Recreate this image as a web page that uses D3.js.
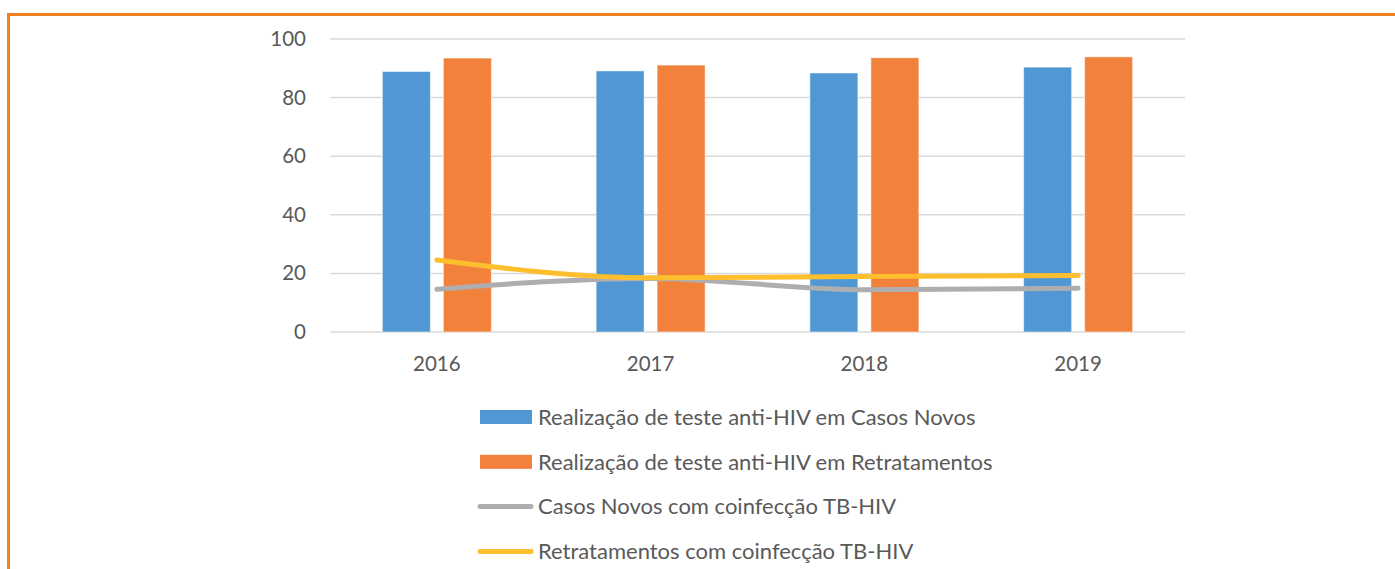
<!DOCTYPE html>
<html>
<head>
<meta charset="utf-8">
<script src="https://cdn.jsdelivr.net/npm/d3@7"></script>
<style>
  body { margin: 0; background: #fff; }
  svg { display: block; font-family: Lato, "Open Sans", sans-serif; }
</style>
</head>
<body>
<svg id="chart" width="1395" height="569"></svg>
<script>
// data
const years = ["2016", "2017", "2018", "2019"]
const testeCasosNovos = [88.9, 89.1, 88.4, 90.4]
const testeRetratamentos = [93.5, 91.1, 93.6, 93.9]
const coinfCasosNovos = [14.6, 18.3, 14.4, 14.9]
const coinfRetratamentos = [24.6, 18.5, 18.9, 19.3]
const yTicks = [0, 20, 40, 60, 80, 100]

const legendNames = [
    "Realização de teste anti-HIV em Casos Novos",
    "Realização de teste anti-HIV em Retratamentos",
    "Casos Novos com coinfecção TB-HIV",
    "Retratamentos com coinfecção TB-HIV"
]
const colors = ["#5097d3", "#f2823b", "#aeaeb1", "#fdbf2d"]

var svg = d3.select("#chart")

// orange frame round the chart
svg.append("rect")
    .attr("x", 8.5)
    .attr("y", 14.5)
    .attr("width", 1400)
    .attr("height", 600)
    .attr("fill", "none")
    .attr("stroke", "#f08224")
    .attr("stroke-width", 3)

let plotLeft = 330, plotRight = 1185, plotTop = 39, plotBottom = 332

let x = d3.scaleBand().domain(years).range([plotLeft, plotRight])
let y = d3.scaleLinear().domain([0, 100]).range([plotBottom, plotTop])

// gridlines
svg.append("g")
    .selectAll("line")
    .data(yTicks)
    .join("line")
    .attr("x1", plotLeft)
    .attr("x2", plotRight)
    .attr("y1", d => y(d))
    .attr("y2", d => y(d))
    .attr("stroke", "#d9d9d9")
    .attr("stroke-width", 1.5)

// y axis labels
let yAxis = svg.append("g")
    .attr("transform", `translate(${plotLeft - 24},0)`)
    .call(d3.axisLeft(y).tickValues(yTicks).tickSize(0).tickPadding(0))
yAxis.select(".domain").remove()
yAxis.selectAll("text")
    .attr("font-size", 20.5)
    .attr("fill", "#595959")
    .attr("font-family", "Lato, 'Open Sans', sans-serif")

// x axis labels
let xAxis = svg.append("g")
    .attr("transform", `translate(0,${plotBottom + 24})`)
    .call(d3.axisBottom(x).tickSize(0).tickPadding(0))
xAxis.select(".domain").remove()
xAxis.selectAll("text")
    .attr("font-size", 20.5)
    .attr("fill", "#595959")
    .attr("font-family", "Lato, 'Open Sans', sans-serif")

// bars
let barW = 48, barGap = 13
let barSeries = [testeCasosNovos, testeRetratamentos]
barSeries.forEach((series, i) => {
    svg.append("g")
        .selectAll("rect")
        .data(series)
        .join("rect")
        .attr("x", (d, j) => x(years[j]) + x.bandwidth() / 2 + (i === 0 ? -barGap / 2 - barW : barGap / 2))
        .attr("y", d => y(d))
        .attr("width", barW)
        .attr("height", d => y(0) - y(d))
        .attr("fill", colors[i])
        .attr("stroke", "#ffffff")
        .attr("stroke-opacity", 0.5)
        .attr("stroke-width", 1)
})

// lines
let line = d3.line()
    .x((d, j) => x(years[j]) + x.bandwidth() / 2)
    .y(d => y(d))
    .curve(d3.curveMonotoneX)

let lineSeries = [coinfCasosNovos, coinfRetratamentos]
lineSeries.forEach((series, i) => {
    svg.append("path")
        .attr("d", line(series))
        .attr("fill", "none")
        .attr("stroke", colors[i + 2])
        .attr("stroke-width", 5)
        .attr("stroke-linecap", "round")
        .attr("stroke-linejoin", "round")
})

// legend
let legendX = 480, legendY = 417, legendStep = 44.8
let legend = svg.append("g")
legendNames.forEach((name, i) => {
    let cy = legendY + i * legendStep
    if (i < 2) {
        legend.append("rect")
            .attr("x", legendX)
            .attr("y", cy - 7)
            .attr("width", 52)
            .attr("height", 14)
            .attr("fill", colors[i])
    } else {
        legend.append("line")
            .attr("x1", legendX)
            .attr("x2", legendX + 51)
            .attr("y1", cy)
            .attr("y2", cy)
            .attr("stroke", colors[i])
            .attr("stroke-width", 5)
            .attr("stroke-linecap", "round")
    }
    legend.append("text")
        .attr("x", legendX + 58)
        .attr("y", cy)
        .attr("dy", "0.35em")
        .attr("font-size", 22)
        .attr("fill", "#595959")
        .text(name)
})
</script>
</body>
</html>
